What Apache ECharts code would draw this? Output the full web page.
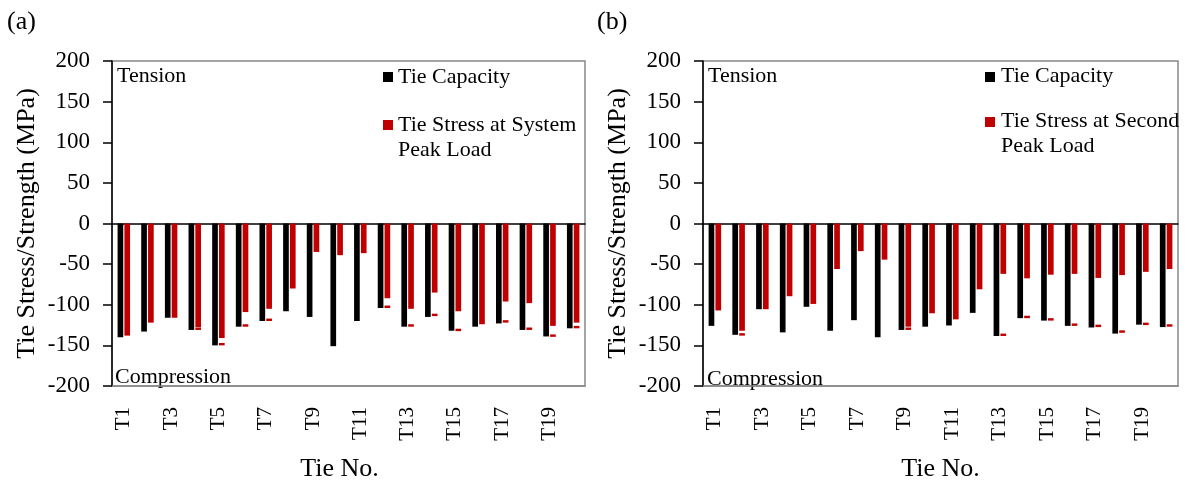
<!DOCTYPE html>
<html>
<head>
<meta charset="utf-8">
<script src="https://cdn.jsdelivr.net/npm/echarts@6/dist/echarts.min.js"></script>
<style>
  html, body { margin: 0; padding: 0; background: #fff; }
  #chart { width: 1192px; height: 487px; }
</style>
</head>
<body>
<div id="chart"></div>
<script>
// Tie labels T1..T20
const ties = ['T1','T2','T3','T4','T5','T6','T7','T8','T9','T10',
              'T11','T12','T13','T14','T15','T16','T17','T18','T19','T20'];

// (a) system peak load
const capacityA = [-140, -133, -116, -131, -150, -127, -120, -108, -115, -151,
                   -120, -104, -127, -115, -132, -127, -123, -131, -139, -129];
const stressA   = [-138, -122, -116, -127.5, -141, -109, -105, -80, -35, -39,
                   -36.5, -92, -105, -85, -108, -124, -96, -98, -126, -122];
// small red marks on the stress bars (lower edge, MPa)
const markA     = [null, null, null, -131, -150, -127, -120, null, null, null,
                   null, -104, -127, -114, -132.5, null, -122, -131, -139.5, -129];

// (b) second peak load
const capacityB = [-126, -137, -105.5, -134, -102.5, -132, -119, -140, -131, -127,
                   -125.5, -110, -138.5, -116.5, -119.5, -126, -128, -135.5, -124.5, -127.5];
const stressB   = [-107, -132, -105.5, -89.5, -99, -56, -34, -44.5, -127, -110.5,
                   -118, -81, -62, -67.5, -63, -62, -67, -63.5, -59.5, -56];
const markB     = [null, -138, null, null, null, null, null, null, -131, null,
                   null, null, -138.5, -116.5, -119.5, -126, -127.5, -134.5, -125, -127];

const yTicks = { min: -200, max: 200, interval: 50 };
const MARK_H = 3; // thickness of the red marks, MPa

const FONT = "'Liberation Serif', 'Times New Roman', serif";
const BLACK = '#000000';
const RED = '#C00000';

function gapData(stress, mark) {
  return mark.map((m, i) => m == null ? null : Math.min(0, (m + MARK_H) - stress[i]));
}
function markData(mark) {
  return mark.map(m => m == null ? null : -MARK_H);
}

const grids = [
  { left: 112, top: 61, width: 473, height: 334 },
  { left: 703, top: 61, width: 475, height: 335 }
];

function xAxes(gi) {
  return [
    {
      type: 'category', gridIndex: gi, data: ties, position: 'bottom',
      axisLine: { onZero: false, lineStyle: { color: '#888', width: 1.5 } },
      axisTick: { show: false },
      axisLabel: { interval: 1, rotate: 90, margin: 21, color: BLACK,
                   fontFamily: FONT, fontSize: 21 },
      name: 'Tie No.', nameLocation: 'middle', nameGap: 70,
      nameTextStyle: { fontFamily: FONT, fontSize: 26, color: BLACK,
                       padding: gi === 0 ? [0, 18, 0, 0] : 0 }
    },
    {
      type: 'category', gridIndex: gi, data: ties,
      axisLine: { onZero: true, lineStyle: { color: BLACK, width: 1.5 } },
      axisTick: { show: false }, axisLabel: { show: false }
    }
  ];
}

function yAxis(gi) {
  return {
    type: 'value', gridIndex: gi, min: yTicks.min, max: yTicks.max, interval: yTicks.interval,
    axisLine: { show: true, lineStyle: { color: BLACK, width: 1.5 } },
    axisTick: { show: true, length: 9, lineStyle: { color: BLACK, width: 1.5 } },
    axisLabel: { margin: 22, color: BLACK, fontFamily: FONT, fontSize: 23 },
    splitLine: { show: false },
    name: 'Tie Stress/Strength (MPa)', nameLocation: 'middle', nameRotate: 90, nameGap: 72,
    nameTextStyle: { fontFamily: FONT, fontSize: 26, color: BLACK }
  };
}

function panelSeries(gi, capacity, stress, mark) {
  const xi = gi * 2, yi = gi;
  const common = { xAxisIndex: xi, yAxisIndex: yi, barWidth: '24%', barGap: '20%' };
  return [
    Object.assign({ type: 'bar', name: 'Tie Capacity', data: capacity,
      itemStyle: { color: BLACK } }, common),
    Object.assign({ type: 'bar', name: 'Tie Stress', stack: 's' + gi, data: stress,
      itemStyle: { color: RED } }, common),
    Object.assign({ type: 'bar', name: 'gap', stack: 's' + gi, data: gapData(stress, mark),
      itemStyle: { color: 'rgba(0,0,0,0)' }, silent: true }, common),
    Object.assign({ type: 'bar', name: 'mark', stack: 's' + gi, data: markData(mark),
      itemStyle: { color: RED } }, common)
  ];
}

function txt(x, y, s, size, extra) {
  return Object.assign({ type: 'text', x: x, y: y,
    style: { text: s, fontFamily: FONT, fontSize: size, fill: BLACK, textVerticalAlign: 'middle' } }, extra || {});
}
function sq(x, y, color) {
  return { type: 'rect', shape: { x: x, y: y - 5, width: 10, height: 10 }, style: { fill: color } };
}

const graphics = [
  txt(7, 22, '(a)', 26),
  txt(597, 22, '(b)', 26),
  txt(117, 76, 'Tension', 22),
  txt(115, 377, 'Compression', 22),
  txt(708, 76, 'Tension', 22),
  txt(707, 379, 'Compression', 22),
  // legend (a)
  sq(383, 77, BLACK), txt(398, 77, 'Tie Capacity', 22),
  sq(383, 125, RED), txt(398, 125, 'Tie Stress at System', 22), txt(398, 150, 'Peak Load', 22),
  // legend (b)
  sq(985, 77, BLACK), txt(1001, 76, 'Tie Capacity', 22),
  sq(985, 122, RED), txt(1001, 121, 'Tie Stress at Second', 22), txt(1001, 146, 'Peak Load', 22)
];

const chart = echarts.init(document.getElementById('chart'), null, { renderer: 'canvas' });
chart.setOption({
  animation: false,
  backgroundColor: '#ffffff',
  grid: grids.map(g => Object.assign({ show: true, borderColor: '#888', borderWidth: 1.5,
    backgroundColor: 'transparent', containLabel: false }, g)),
  xAxis: xAxes(0).concat(xAxes(1)),
  yAxis: [yAxis(0), yAxis(1)],
  series: panelSeries(0, capacityA, stressA, markA).concat(panelSeries(1, capacityB, stressB, markB)),
  graphic: graphics
});
</script>
</body>
</html>
